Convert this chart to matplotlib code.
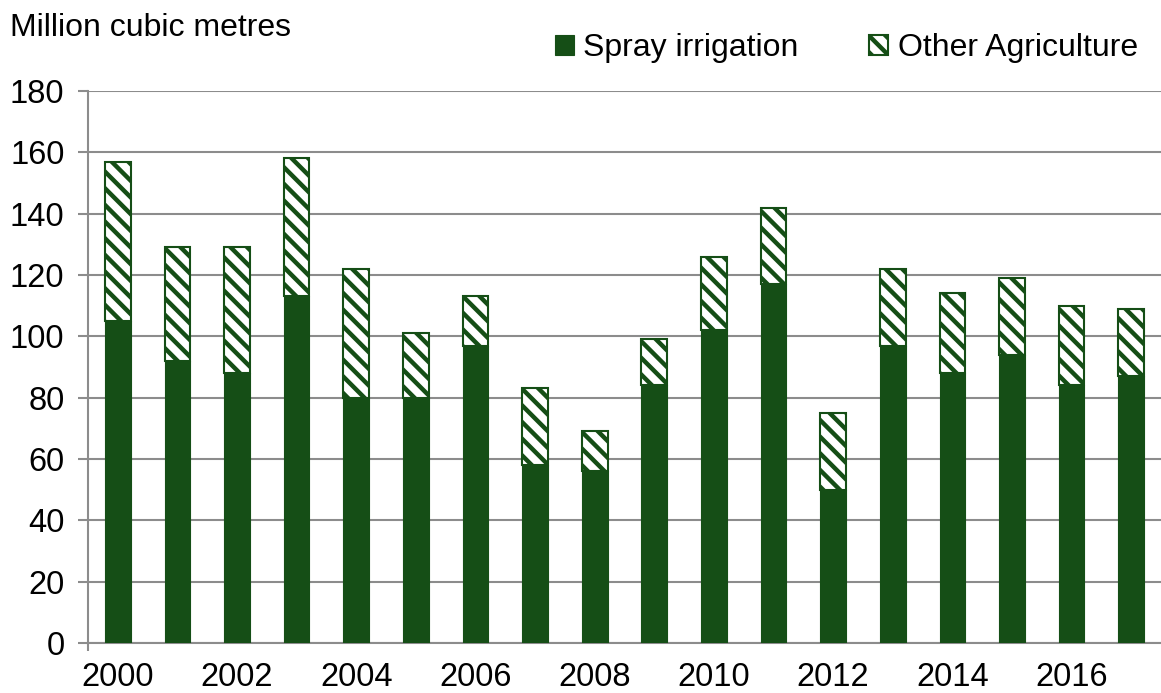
import matplotlib.pyplot as plt
import numpy as np

plt.rcParams['font.family'] = ['Liberation Sans', 'DejaVu Sans']
plt.rcParams['hatch.linewidth'] = 3.2

# Data (million cubic metres)
years = list(range(2000, 2018))
spray = [105, 92, 88, 113, 80, 80, 97, 58, 56, 84, 102, 117, 50, 97, 88, 94, 84, 87]
total = [157, 129, 129, 158, 122, 101, 113, 83, 69, 99, 126, 142, 75, 122, 114, 119, 110, 109]
other = [t - s for t, s in zip(total, spray)]

green = '#154e16'
grey = '#8c8c8c'

fig = plt.figure(figsize=(11.61, 6.93), dpi=100)
ax = fig.add_axes([88/1161, 1 - 643/693, 1 - 88/1161, (643 - 91)/693])

x = np.arange(len(years))
ax.bar(x, spray, width=0.43, color=green, edgecolor=green, linewidth=0.8,
       label='Spray irrigation', zorder=3)
ax.bar(x, other, width=0.43, bottom=spray, color='white', edgecolor=green,
       hatch='\\\\', linewidth=1.5, label='Other Agriculture', zorder=3)

ax.set_xlim(-0.5, len(years) - 0.5)
ax.set_ylim(0, 180)
ax.set_yticks(range(0, 181, 20))
ax.set_xticks(x[::2])
ax.set_xticklabels([str(y) for y in years[::2]])
ax.set_xticks([-0.5], minor=True)

ax.grid(axis='y', color=grey, linewidth=1.5, zorder=0)
for s in ['top', 'right']:
    ax.spines[s].set_visible(False)
for s in ['left', 'bottom']:
    ax.spines[s].set_color(grey)
    ax.spines[s].set_linewidth(1.5)

ax.tick_params(axis='y', length=7, width=1.5, color=grey, pad=10, labelsize=23.5)
ax.tick_params(axis='x', which='major', length=0, pad=14, labelsize=23.5)
ax.tick_params(axis='x', which='minor', length=6, width=1.5, color=grey)

fig.text(10/1161, 1 - 28/693, 'Million cubic metres', fontsize=23, va='center', ha='left')

fig.legend(loc='center right', bbox_to_anchor=(1138/1161, 1 - 48/693), ncol=2,
           frameon=False, fontsize=23, handlelength=0.6, handleheight=0.6,
           handletextpad=0.3, columnspacing=2.2, borderpad=0, borderaxespad=0)

fig.savefig('out.png', dpi=100)
